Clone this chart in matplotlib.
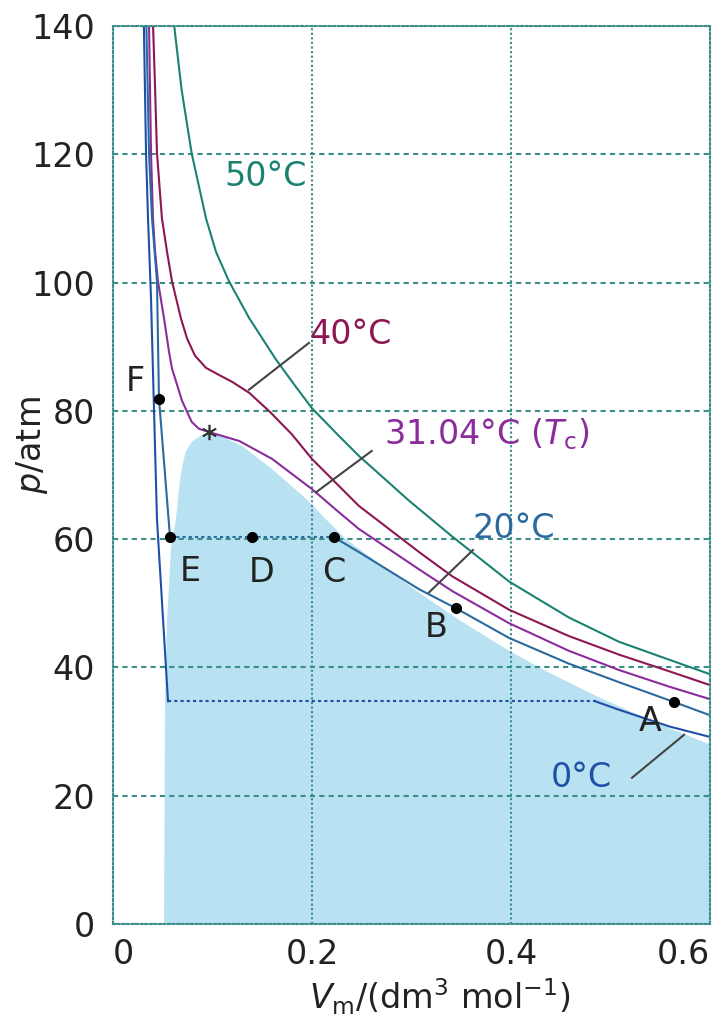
import matplotlib
matplotlib.use("Agg")
import matplotlib.pyplot as plt

plt.rcParams["font.family"] = ["DejaVu Sans"]
plt.rcParams["mathtext.fontset"] = "dejavusans"

# isotherms (V in dm3/mol, p in atm)
v_50 = [0.0613, 0.069, 0.079, 0.0935, 0.1035, 0.1166, 0.1367, 0.1638, 0.184, 0.2,
        0.227, 0.247, 0.2975, 0.341, 0.398, 0.458, 0.5085, 0.559, 0.599]
p_50 = [140.3, 130.0, 120.2, 110.0, 104.8, 100.2, 94.5, 88.0, 83.7, 80.4,
        76.1, 73.0, 66.0, 60.4, 53.4, 47.8, 44.0, 41.2, 39.0]

v_40 = [0.0402, 0.0422, 0.0442, 0.0492, 0.0543, 0.0593, 0.0683, 0.0744, 0.0824, 0.0935,
        0.1065, 0.12, 0.137, 0.158, 0.18, 0.2, 0.247, 0.3075, 0.341, 0.398, 0.458,
        0.5085, 0.559, 0.599]
p_40 = [140.3, 130.8, 120.2, 110.0, 104.8, 100.2, 94.4, 91.3, 88.6, 86.7,
        85.6, 84.5, 82.8, 79.8, 76.3, 72.5, 65.2, 58.0, 54.2, 49.0, 44.9,
        42.0, 39.4, 37.3]

v_31 = [0.0362, 0.0382, 0.0402, 0.0422, 0.0452, 0.0513, 0.0563, 0.0593, 0.0693, 0.079,
        0.0864, 0.0965, 0.127, 0.16, 0.2, 0.227, 0.247, 0.3075, 0.341, 0.398, 0.458,
        0.5085, 0.559, 0.599]
p_31 = [140.3, 120.2, 110.0, 105.0, 100.2, 94.4, 89.2, 86.6, 81.6, 78.3,
        77.2, 76.7, 75.3, 72.5, 67.8, 64.2, 61.6, 55.3, 51.9, 46.9, 42.6,
        39.6, 37.0, 35.1]

v_20_liq = [0.0335, 0.0362, 0.0392, 0.0442, 0.0462, 0.0573]
p_20_liq = [140.3, 120.2, 110.0, 100.2, 81.9, 60.3]
v_20_gas = [0.222, 0.247, 0.3075, 0.345, 0.398, 0.458, 0.5085, 0.564, 0.599]
p_20_gas = [60.3, 58.0, 52.2, 49.2, 44.6, 40.6, 37.7, 34.6, 32.6]

v_0_liq = [0.031, 0.0332, 0.0352, 0.0382, 0.0442, 0.0553]
p_0_liq = [140.3, 120.2, 110.0, 97.5, 63.1, 34.7]
v_0_gas = [0.485, 0.5085, 0.559, 0.599]
p_0_gas = [34.7, 33.4, 30.8, 29.2]

# two-phase region (shaded)
dome_v = [0.0513, 0.0523, 0.0543, 0.0583, 0.0603, 0.0633, 0.0663, 0.069, 0.073, 0.0794,
          0.088, 0.0965, 0.11, 0.13, 0.16, 0.194, 0.214, 0.234, 0.262, 0.31, 0.35,
          0.398, 0.438, 0.485, 0.542, 0.6, 0.6]
dome_p = [0.0, 34.5, 47.5, 58.5, 60.5, 63.1, 67.8, 70.9, 73.6, 75.2,
          76.1, 76.9, 76.0, 74.5, 70.9, 66.3, 63.1, 60.0, 56.8, 51.4, 47.2,
          42.6, 39.2, 35.6, 31.6, 28.0, 0.0]

point_names = ["A", "B", "C", "D", "E", "F"]
point_v = [0.564, 0.345, 0.222, 0.140, 0.0573, 0.0462]
point_p = [34.6, 49.2, 60.3, 60.3, 60.3, 81.9]

crit_v = 0.0965
crit_p = 76.7

x_ticks = [0, 0.2, 0.4, 0.6]
x_ticklabels = ["0", "0.2", "0.4", "0.6"]
y_ticks = [0, 20, 40, 60, 80, 100, 120, 140]

c50 = "#1b8272"
c40 = "#8c1752"
c31 = "#8a2c9c"
c20 = "#2b6a9e"
c0 = "#1f50a8"
grid_c = "#3a8d88"
shade = "#b8e2f1"
ink = "#222222"

fig = plt.figure(figsize=(7.19, 10.19), dpi=100)
ax = fig.add_axes([113 / 719, 1 - 924 / 1019, 597 / 719, 898 / 1019])

ax.fill(dome_v, dome_p, color=shade, lw=0, zorder=0.3)

lw = 1.5
ax.plot(v_50, p_50, color=c50, lw=lw)
ax.plot(v_40, p_40, color=c40, lw=lw)
ax.plot(v_31, p_31, color=c31, lw=lw)
ax.plot(v_20_liq, p_20_liq, color=c20, lw=lw)
ax.plot(v_20_gas, p_20_gas, color=c20, lw=lw)
ax.plot([v_20_liq[-1], v_20_gas[0]], [p_20_liq[-1], p_20_gas[0]],
        color=c20, lw=lw, linestyle=(0, (1.5, 1.5)))
ax.plot(v_0_liq, p_0_liq, color=c0, lw=lw)
ax.plot(v_0_gas, p_0_gas, color=c0, lw=lw)
ax.plot([v_0_liq[-1], v_0_gas[0]], [p_0_liq[-1], p_0_gas[0]],
        color=c0, lw=lw, linestyle=(0, (1.5, 1.5)))

ax.plot(point_v, point_p, "o", color="black", ms=7, zorder=4)
ax.plot([crit_v], [crit_p], marker=(6, 2, 0), color="#333333", ms=11, mew=1.2, zorder=4)

# point labels
label_pos = {"A": (0.54, 31.6), "B": (0.325, 46.3), "C": (0.222, 54.8),
             "D": (0.149, 54.8), "E": (0.078, 55.0), "F": (0.022, 84.5)}
for name in point_names:
    x, y = label_pos[name]
    ax.text(x, y, name, fontsize=24, color=ink, ha="center", va="center")

# isotherm labels with leader lines
labels = [
    ("50°C", c50, (0.1116, 116.6), None),
    ("40°C", c40, (0.197, 91.9), ((0.1367, 83.3), (0.197, 90.6))),
    ("31.04°C ($T_{\\rm c}$)", c31, (0.272, 76.4), ((0.204, 67.3), (0.26, 73.75))),
    ("20°C", c20, (0.361, 61.6), ((0.3176, 51.7), (0.3618, 58.3))),
    ("0°C", c0, (0.44, 22.8), ((0.574, 29.5), (0.5216, 22.8))),
]
for txt, col, (x, y), leader in labels:
    ax.text(x, y, txt, fontsize=24, color=col, ha="left", va="center")
    if leader:
        (x0, y0), (x1, y1) = leader
        ax.plot([x0, x1], [y0, y1], color="#444444", lw=1.5, zorder=3)

ax.set_xlim(0, 0.6)
ax.set_ylim(0, 140)
ax.set_xticks(x_ticks)
ax.set_xticklabels(x_ticklabels)
ax.set_yticks(y_ticks)
ax.tick_params(axis="both", length=0, labelsize=24, colors=ink)
ax.tick_params(axis="y", pad=13)
ax.tick_params(axis="x", pad=10)
xt = ax.get_xticklabels()
xt[0].set_ha("left")
xt[-1].set_ha("right")

ax.set_axisbelow(True)
ax.grid(axis="y", color=grid_c, lw=1.5, linestyle=(0, (2.5, 2)))
ax.grid(axis="x", color=grid_c, lw=1.5, linestyle=(0, (1, 1.2)))
for s in ax.spines.values():
    s.set_color(grid_c)
    s.set_linewidth(1.5)
    s.set_linestyle((0, (1, 1.2)))

ax.set_ylabel("$p$/atm", fontsize=24, color=ink)
ax.yaxis.set_label_coords(-0.105, 0.533)
ax.set_xlabel("$V_{\\rm m}$/(dm$^3$ mol$^{-1}$)", fontsize=24, color=ink)
ax.xaxis.set_label_coords(0.548, -0.058)

fig.savefig("out.png", dpi=100)
